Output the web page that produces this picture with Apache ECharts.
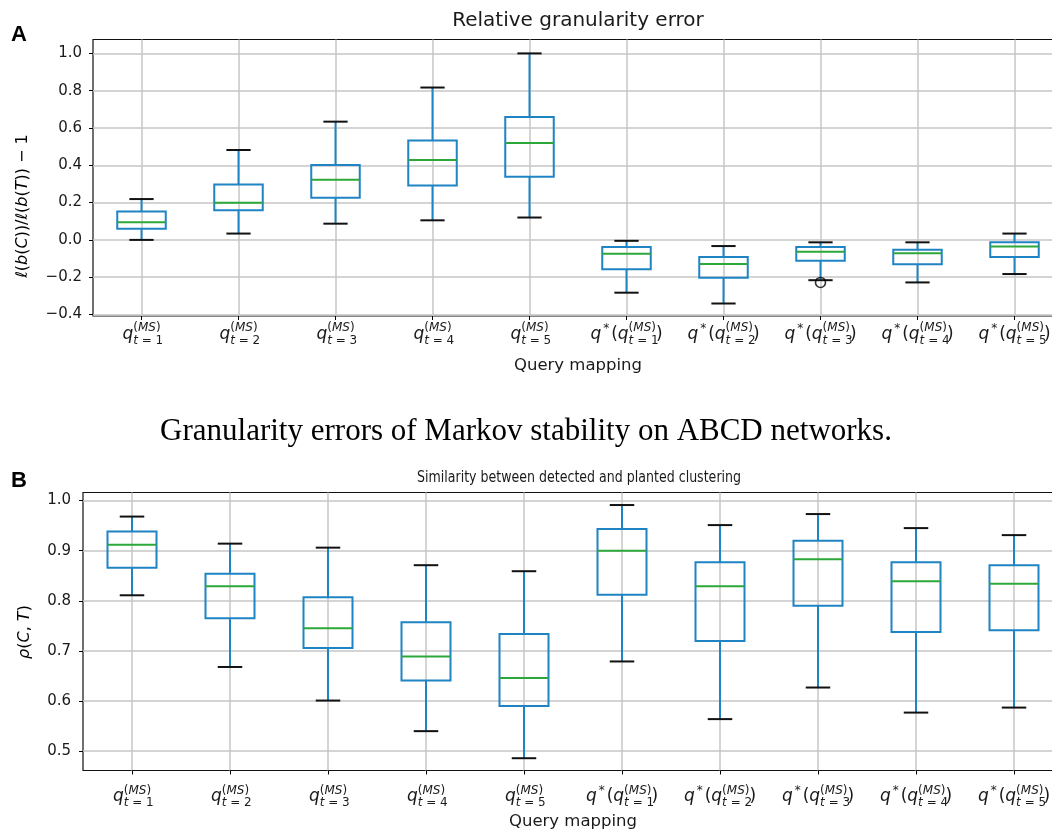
<!DOCTYPE html>
<html>
<head>
<meta charset="utf-8">
<script src="https://cdn.jsdelivr.net/npm/echarts@6/dist/echarts.min.js"></script>
<style>
  html, body { margin: 0; padding: 0; background: #ffffff; }
  #chart { width: 1052px; height: 830px; }
</style>
</head>
<body>
<div id="chart"></div>
<script>
// Query mappings along the x axis (rich-text math labels)
const categories = [
  '{q|q}{sbi|t}{sb| = 1}{spp|(}{spi|MS}{spp|)}',
  '{q|q}{sbi|t}{sb| = 2}{spp|(}{spi|MS}{spp|)}',
  '{q|q}{sbi|t}{sb| = 3}{spp|(}{spi|MS}{spp|)}',
  '{q|q}{sbi|t}{sb| = 4}{spp|(}{spi|MS}{spp|)}',
  '{q|q}{sbi|t}{sb| = 5}{spp|(}{spi|MS}{spp|)}',
  '{q|q}{st|*}{p|(}{q|q}{sbi|t}{sb| = 1}{spp|(}{spi|MS}{spp|)}{p|)}',
  '{q|q}{st|*}{p|(}{q|q}{sbi|t}{sb| = 2}{spp|(}{spi|MS}{spp|)}{p|)}',
  '{q|q}{st|*}{p|(}{q|q}{sbi|t}{sb| = 3}{spp|(}{spi|MS}{spp|)}{p|)}',
  '{q|q}{st|*}{p|(}{q|q}{sbi|t}{sb| = 4}{spp|(}{spi|MS}{spp|)}{p|)}',
  '{q|q}{st|*}{p|(}{q|q}{sbi|t}{sb| = 5}{spp|(}{spi|MS}{spp|)}{p|)}'
];
const positions = [1, 2, 3, 4, 5, 6, 7, 8, 9, 10];

// Panel A: relative granularity error  l(b(C))/l(b(T)) - 1
const errMin = [0.000, 0.034, 0.087, 0.105, 0.120, -0.283, -0.341, -0.216, -0.228, -0.183];
const errQ1  = [0.060, 0.159, 0.226, 0.292, 0.339, -0.158, -0.203, -0.112, -0.130, -0.091];
const errMed = [0.094, 0.199, 0.322, 0.429, 0.520, -0.074, -0.129, -0.063, -0.071, -0.036];
const errQ3  = [0.152, 0.297, 0.402, 0.533, 0.659, -0.038, -0.091, -0.038, -0.053, -0.013];
const errMax = [0.219, 0.482, 0.634, 0.817, 1.000, -0.005, -0.033, -0.013, -0.013, 0.034];
const errOutliers = [[8, -0.228]];
const errTicks = [-0.4, -0.2, 0.0, 0.2, 0.4, 0.6, 0.8, 1.0];

// Panel B: similarity rho(C, T) between detected and planted clustering
const simMin = [0.811, 0.668, 0.601, 0.540, 0.486, 0.679, 0.564, 0.627, 0.577, 0.587];
const simQ1  = [0.866, 0.765, 0.706, 0.641, 0.590, 0.812, 0.720, 0.790, 0.738, 0.741];
const simMed = [0.912, 0.829, 0.745, 0.689, 0.646, 0.900, 0.829, 0.883, 0.839, 0.834];
const simQ3  = [0.938, 0.854, 0.807, 0.757, 0.734, 0.943, 0.877, 0.920, 0.877, 0.871];
const simMax = [0.968, 0.914, 0.906, 0.871, 0.859, 0.991, 0.951, 0.973, 0.945, 0.931];
const simTicks = [0.5, 0.6, 0.7, 0.8, 0.9, 1.0];

const FONT = 'DejaVu Sans';
const TEXT = '#1a1a1a';
const BOX = '#1f84c4';
const MEDIAN = '#2ca83a';
const CAP = '#111111';
const GRIDLINE = '#c6c6c6';

// width of the subscript so the superscript can be stacked above it
const measureCtx = document.createElement('canvas').getContext('2d');
function textWidth(font, s) { measureCtx.font = font; return measureCtx.measureText(s).width; }
const SUB_SIZE = 12;
const subWidth = textWidth('italic normal ' + SUB_SIZE + 'px ' + FONT, 't') +
                 textWidth('normal normal ' + SUB_SIZE + 'px ' + FONT, ' = 1');

const tickRich = {
  q:   { fontFamily: FONT, fontStyle: 'italic', fontSize: 17, color: TEXT },
  p:   { fontFamily: FONT, fontSize: 17, color: TEXT },
  st:  { fontFamily: FONT, fontSize: 12, color: TEXT, padding: [0, 2, 12, 2] },
  sbi: { fontFamily: FONT, fontStyle: 'italic', fontSize: SUB_SIZE, color: TEXT, padding: [12, 0, 0, 0] },
  sb:  { fontFamily: FONT, fontSize: SUB_SIZE, color: TEXT, padding: [12, -subWidth, 0, 0] },
  spp: { fontFamily: FONT, fontSize: SUB_SIZE, color: TEXT, padding: [0, 0, 13, 0] },
  spi: { fontFamily: FONT, fontStyle: 'italic', fontSize: SUB_SIZE, color: TEXT, padding: [0, 0, 13, 0] }
};

function boxRows(mn, q1, md, q3, mx) {
  return positions.map((p, i) => [p, mn[i], q1[i], md[i], q3[i], mx[i]]);
}

// Box-and-whisker glyph: blue box and whiskers, green median, black caps
function renderBox(params, api) {
  const x = api.value(0);
  const pLo = api.coord([x, api.value(1)]);
  const pQ1 = api.coord([x, api.value(2)]);
  const pMd = api.coord([x, api.value(3)]);
  const pQ3 = api.coord([x, api.value(4)]);
  const pHi = api.coord([x, api.value(5)]);
  const halfBox = api.size([0.25, 0])[0];
  const halfCap = api.size([0.125, 0])[0];
  const cx = pMd[0];
  const lw = 2;
  return {
    type: 'group',
    children: [
      { type: 'line', shape: { x1: cx, y1: pQ3[1], x2: cx, y2: pHi[1] }, style: { stroke: BOX, lineWidth: lw } },
      { type: 'line', shape: { x1: cx, y1: pQ1[1], x2: cx, y2: pLo[1] }, style: { stroke: BOX, lineWidth: lw } },
      { type: 'rect', shape: { x: cx - halfBox, y: pQ3[1], width: 2 * halfBox, height: pQ1[1] - pQ3[1] },
        style: { fill: 'none', stroke: BOX, lineWidth: lw } },
      { type: 'line', shape: { x1: cx - halfBox, y1: pMd[1], x2: cx + halfBox, y2: pMd[1] }, style: { stroke: MEDIAN, lineWidth: lw } },
      { type: 'line', shape: { x1: cx - halfCap, y1: pHi[1], x2: cx + halfCap, y2: pHi[1] }, style: { stroke: CAP, lineWidth: lw } },
      { type: 'line', shape: { x1: cx - halfCap, y1: pLo[1], x2: cx + halfCap, y2: pLo[1] }, style: { stroke: CAP, lineWidth: lw } }
    ]
  };
}

function xAxisFor(gridIndex, labelMargin, nameGap) {
  return {
    type: 'value', gridIndex: gridIndex, min: 0.5, max: 10.5,
    axisLine: { show: false, onZero: false },
    axisTick: { show: true, customValues: positions, length: 4, lineStyle: { color: '#000', width: 1 } },
    axisLabel: { customValues: positions, formatter: v => categories[Math.round(v) - 1], rich: tickRich, margin: labelMargin, hideOverlap: false },
    splitLine: { show: true, lineStyle: { color: GRIDLINE, width: 1.5 } },
    name: 'Query mapping', nameLocation: 'middle', nameGap: nameGap,
    nameTextStyle: { fontFamily: FONT, fontSize: 16.5, color: TEXT }
  };
}

function yAxisFor(gridIndex, min, max, ticks, labelMargin) {
  return {
    type: 'value', gridIndex: gridIndex, min: min, max: max,
    axisLine: { show: false, onZero: false },
    axisTick: { show: true, customValues: ticks, length: 4, lineStyle: { color: '#000', width: 1 } },
    axisLabel: { customValues: ticks, formatter: v => v.toFixed(1).replace('-', '\u2212'),
                 fontFamily: FONT, fontSize: 15, color: TEXT, margin: labelMargin },
    splitLine: { show: true, lineStyle: { color: GRIDLINE, width: 1.5 } }
  };
}

const nameRich = {
  n: { fontFamily: FONT, fontSize: 16, color: TEXT },
  i: { fontFamily: FONT, fontStyle: 'italic', fontSize: 16, color: TEXT }
};

const chart = echarts.init(document.getElementById('chart'), null, { renderer: 'canvas' });

chart.setOption({
  backgroundColor: '#ffffff',
  animation: false,
  grid: [
    { left: 93, width: 970, top: 39.5, height: 276.5, outerBoundsMode: 'none', containLabel: false,
      show: true, borderColor: '#111', borderWidth: 1.2, backgroundColor: 'transparent' },
    { left: 83, width: 980, top: 492.5, height: 278, outerBoundsMode: 'none', containLabel: false,
      show: true, borderColor: '#111', borderWidth: 1.2, backgroundColor: 'transparent' }
  ],
  xAxis: [ xAxisFor(0, 6, 41), xAxisFor(1, 14, 43) ],
  yAxis: [ yAxisFor(0, -0.408, 1.0745, errTicks, 11), yAxisFor(1, 0.4615, 1.016, simTicks, 12) ],
  graphic: [
    { type: 'text', x: 11, y: 35, style: { text: 'A', font: 'bold 22px "Liberation Sans"', fill: '#000', textVerticalAlign: 'middle' } },
    { type: 'text', x: 11, y: 481, style: { text: 'B', font: 'bold 22px "Liberation Sans"', fill: '#000', textVerticalAlign: 'middle' } },
    { type: 'text', x: 578, y: 21, style: { text: 'Relative granularity error', font: '20px "DejaVu Sans"', fill: TEXT, textAlign: 'center', textVerticalAlign: 'middle' } },
    { type: 'text', x: 579, y: 478, scaleX: 0.84,
      style: { text: 'Similarity between detected and planted clustering', font: '15px "DejaVu Sans"', fill: TEXT, textAlign: 'center', textVerticalAlign: 'middle' } },
    { type: 'text', x: 526, y: 432, style: { text: 'Granularity errors of Markov stability on ABCD networks.', font: '31px "Liberation Serif"', fill: '#000', textAlign: 'center', textVerticalAlign: 'middle' } },
    // rotated y-axis titles
    { type: 'text', x: 23, y: 206, rotation: Math.PI / 2,
      style: { text: '{i|\u2113}{n|(}{i|b}{n|(}{i|C}{n|))/}{i|\u2113}{n|(}{i|b}{n|(}{i|T}{n|)) \u2212 1}', rich: nameRich, textAlign: 'center', textVerticalAlign: 'middle' } },
    { type: 'text', x: 25, y: 632, rotation: Math.PI / 2,
      style: { text: '{i|\u03C1}{n|(}{i|C}{n|, }{i|T}{n|)}', rich: nameRich, textAlign: 'center', textVerticalAlign: 'middle' } }
  ],
  series: [
    { type: 'custom', xAxisIndex: 0, yAxisIndex: 0, renderItem: renderBox,
      encode: { x: 0, y: [1, 2, 3, 4, 5] }, data: boxRows(errMin, errQ1, errMed, errQ3, errMax), z: 3 },
    { type: 'scatter', xAxisIndex: 0, yAxisIndex: 0, data: errOutliers, symbol: 'circle', symbolSize: 10,
      itemStyle: { color: 'rgba(0,0,0,0)', borderColor: '#000', borderWidth: 1.6 }, z: 4 },
    { type: 'custom', xAxisIndex: 1, yAxisIndex: 1, renderItem: renderBox,
      encode: { x: 0, y: [1, 2, 3, 4, 5] }, data: boxRows(simMin, simQ1, simMed, simQ3, simMax), z: 3 }
  ]
});
</script>
</body>
</html>
